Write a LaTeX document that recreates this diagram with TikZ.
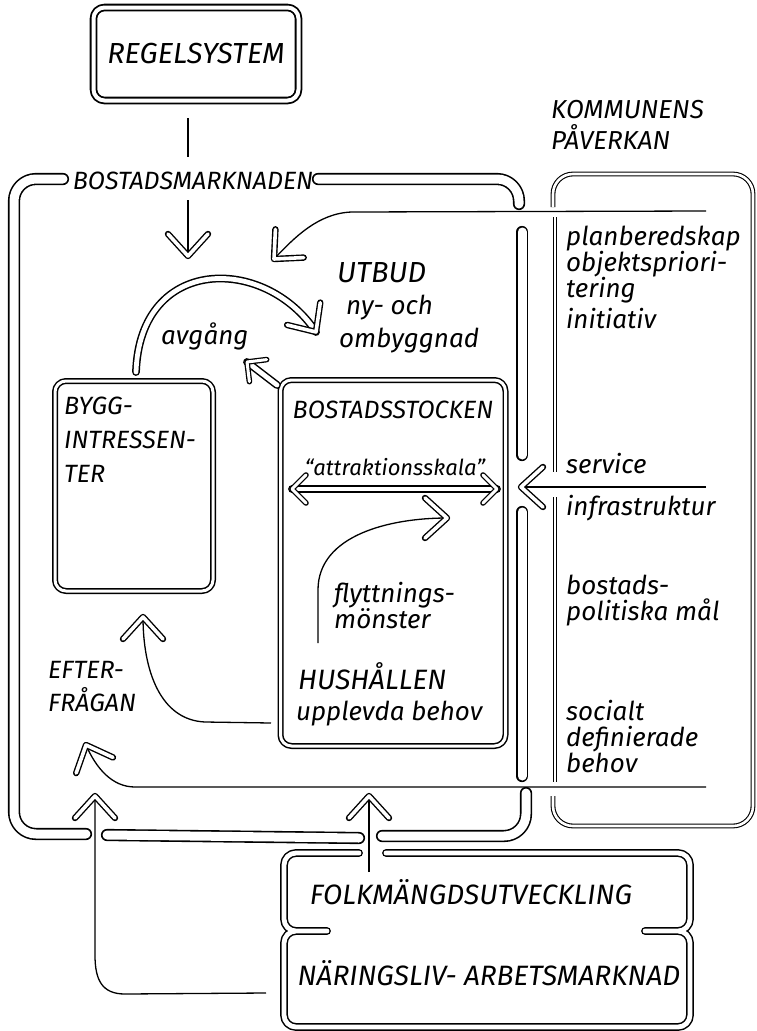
\documentclass[tikz,border=0pt]{standalone}
\usepackage{fontspec}
\setmainfont{Fira Sans}
\begin{document}
\begin{tikzpicture}[x=1pt, y=-1pt, line join=round,
  big tube/.style={draw, line width=1.6pt, double, double distance=9pt, line cap=round, rounded corners=22pt},
  tube/.style={draw, line width=1.5pt, double, double distance=4.8pt, line cap=round, rounded corners=12pt},
  box node/.style={draw, line width=1.5pt, double, double distance=3pt, rounded corners=11pt, inner sep=0pt},
  pair/.style={draw, line width=1.1pt, double, double distance=2.6pt},
  wire/.style={draw, line width=1.3pt},
  caps/.style={font=\itshape\fontsize{25}{31}\selectfont, inner sep=0pt, align=left},
  hand/.style={font=\itshape\fontsize{26}{26}\selectfont, inner sep=0pt, align=left},
  pics/chev/.style={code={\draw[line width=1.4pt, double, double distance=3.6pt, line cap=round] (-22,-20) -- (0,0) -- (-22,20);}},
  pics/small chev/.style={code={\draw[line width=1.3pt, double, double distance=3pt, line cap=round] (-14,-14) -- (0,0) -- (-14,14);}}]
\useasboundingbox (0,0) rectangle (756,1031);

% boxes and labels
\node[box node, caps, line width=1.8pt, double distance=4pt, font=\itshape\fontsize{29}{31}\selectfont,
  minimum width=205pt, minimum height=93pt] (regel) at (196,54) {REGELSYSTEM};
\node[box node, minimum width=158pt, minimum height=210pt] (bygg) at (134,486) {};
\node[box node, minimum width=225pt, minimum height=366pt] (stock) at (393,563) {};
\begin{scope}[every node/.style={caps}]
\node (markn) at (193,181) {BOSTADSMARKNADEN};
\node[anchor=west, font=\itshape\fontsize{26}{31}\selectfont] (komm) at (551,125) {KOMMUNENS\\PÅVERKAN};
\node[anchor=north west, font=\itshape\fontsize{25}{34}\selectfont] (byggtxt) at (64,397) {BYGG-\\INTRESSEN-\\TER};
\node (stocktxt) at (393,410) {BOSTADSSTOCKEN};
\node[anchor=west, font=\itshape\fontsize{28}{31}\selectfont] (hush) at (298,676) {HUSHÅLLEN};
\node[anchor=west, font=\itshape\fontsize{29}{31}\selectfont] (utbud) at (337,273) {UTBUD};
\node[anchor=west, font=\itshape\fontsize{25}{33}\selectfont] (efter) at (48,687) {EFTER-\\FRÅGAN};
\node[font=\itshape\fontsize{28}{31}\selectfont] (folk) at (471,892) {FOLKMÄNGDSUTVECKLING};
\node[font=\itshape\fontsize{28}{31}\selectfont] (nar) at (489,973) {NÄRINGSLIV- ARBETSMARKNAD};
\end{scope}
\begin{scope}[every node/.style={hand, anchor=west}]
\node[anchor=center, font=\itshape\fontsize{22}{26}\selectfont] (attr) at (395,467) {“attraktionsskala”};
\node (flytt) at (334,606) {flyttnings-\\mönster};
\node (behov) at (296,714) {upplevda behov};
\node (nyoch) at (346,308) {ny- och};
\node (ombygg) at (339,341) {ombyggnad};
\node (avg) at (161,336) {avgång};
\node (plan) at (566,265) {planberedskap\\objektspriori-\\tering};
\node (init) at (566,319) {initiativ};
\node (serv) at (566,464) {service};
\node (infra) at (566,508) {infrastruktur};
\node (mal) at (566,601) {bostads-\\politiska mål};
\node (soc) at (566,737) {socialt\\definierade\\behov};
\end{scope}

% tubes of the market frame
\draw[big tube] (63,179) -- (14,179) -- (14,834) -- (86,834);
\draw[big tube] (318,179) -- (519,179) -- (519,204);
\draw[big tube] (107,835) -- (359,838);
\draw[big tube] (382,836) -- (526,836) -- (526,793);
\draw[big tube, rounded corners=0] (522,232) -- (522,455);
\draw[big tube, rounded corners=0] (522,512) -- (522,776);
\draw[pair] (555,217) -- (555,472);
\draw[pair] (555,497) -- (555,782);
\draw[pair, rounded corners=20pt] (553,207) -- (553,174) -- (753,174) -- (753,826) -- (553,826) -- (553,796);
\draw[tube] (359,853) -- (284,853) -- (284,931) -- (327,931)
  (306,931) -- (284,931) -- (284,1027) -- (690,1027) -- (690,931) -- (666,931)
  (386,853) -- (690,853) -- (690,931) -- (645,931);

% connectors
\coordinate (r1) at (188,118); \coordinate (r2) at (188,157);
\coordinate (vtop) at (188,200); \coordinate (vtip) at (188,256);
\coordinate (k1) at (706,211); \coordinate (utip) at (274,259);
\coordinate (a1) at (136,372); \coordinate (atip) at (316,332);
\coordinate (s1) at (277,385); \coordinate (stip) at (247,362);
\coordinate (d1) at (292,489); \coordinate (d2) at (497,489);
\coordinate (sv1) at (706,487); \coordinate (svtip) at (521,487);
\coordinate (f1) at (318,643); \coordinate (ftip) at (447,518);
\coordinate (h1) at (271,723); \coordinate (htip) at (143,617);
\coordinate (e1) at (706,787); \coordinate (etip) at (86,745);
\coordinate (n1) at (266,993); \coordinate (ntip) at (95,796);
\coordinate (fo1) at (369,872); \coordinate (fotip) at (369,796);

\draw[wire] (r1) -- (r2);
\draw[wire] (vtop) -- (vtip); \pic[rotate=-90] at (vtip) {chev};
\draw[wire] (k1) -- (352,212) .. controls (318,213) and (294,238) .. (utip); \pic[rotate=-135] at (utip) {chev};
\draw[tube] (a1) .. controls (140,255) and (265,255) .. (atip); \pic[rotate=-56] at (atip) {chev};
\draw[tube] (s1) -- (stip); \pic[rotate=142] at (stip) {small chev};
\draw[tube] (d1) -- (d2); \pic[rotate=180] at (d1) {small chev}; \pic at (d2) {small chev};
\draw[wire] (sv1) -- (svtip); \pic[rotate=180] at (svtip) {chev};
\draw[wire] (f1) -- (318,590) .. controls (318,535) and (390,518) .. (ftip); \pic at (ftip) {chev};
\draw[wire] (h1) -- (205,722) .. controls (160,720) and (143,670) .. (htip); \pic[rotate=90] at (htip) {chev};
\draw[wire] (e1) -- (135,787) .. controls (112,787) and (96,768) .. (etip); \pic[rotate=113] at (etip) {chev};
\draw[wire] (n1) -- (125,994) .. controls (102,994) and (95,980) .. (95,955) -- (ntip); \pic[rotate=90] at (ntip) {chev};
\draw[wire] (fo1) -- (fotip); \pic[rotate=90] at (fotip) {chev};
\end{tikzpicture}
\end{document}
